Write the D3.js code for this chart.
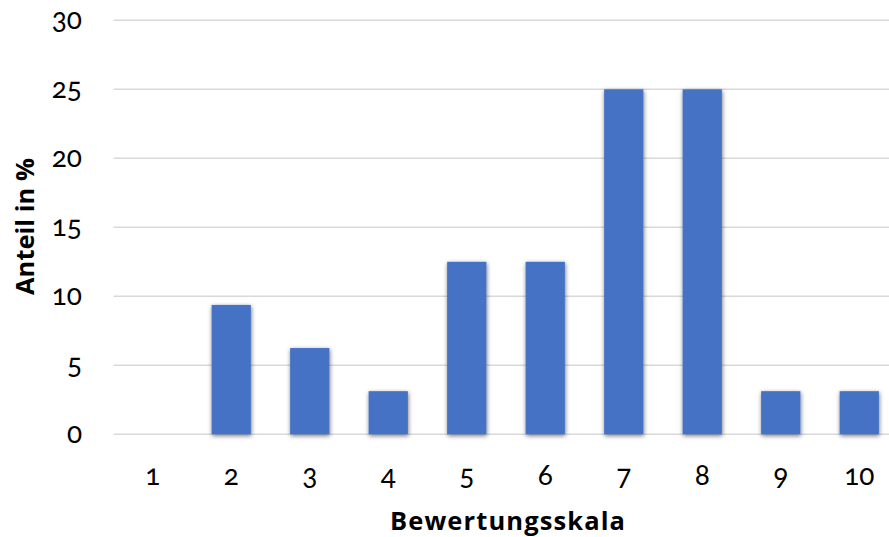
<!DOCTYPE html>
<html><head><meta charset="utf-8">
<script src="https://cdn.jsdelivr.net/npm/d3@7"></script>
<style>
body{margin:0;background:#fff;}
svg{display:block;}
.tick text{font-family:Lato,"Open Sans",sans-serif;font-variant-numeric:oldstyle-nums;font-feature-settings:"onum" 1;fill:#000;}
</style></head>
<body><svg id="c" width="889" height="537"></svg>
<script>
const categories = ["1","2","3","4","5","6","7","8","9","10"];
const values = [0, 9.375, 6.25, 3.125, 12.5, 12.5, 25, 25, 3.125, 3.125];
const yTicks = [0, 5, 10, 15, 20, 25, 30];
const xTitle = "Bewertungsskala";
const yTitle = "Anteil in %";

(function(){
const svg = d3.select("#c");
const pLeft = 113.5, pRight = 898.5, pTop = 20.3, pBottom = 434.3;

const x = d3.scaleBand().domain(categories).range([pLeft, pRight]).paddingInner(0.5).paddingOuter(0.25);
const y = d3.scaleLinear().domain([0, 30]).range([pBottom, pTop]);

const defs = svg.append("defs");
const f = defs.append("filter").attr("id","sh").attr("x","-30%").attr("y","-10%").attr("width","160%").attr("height","130%");
f.append("feDropShadow").attr("dx",0.5).attr("dy",1.5).attr("stdDeviation",2).attr("flood-color","#000").attr("flood-opacity",0.55);

svg.append("g").selectAll("line").data(yTicks).join("line")
  .attr("x1", pLeft).attr("x2", pRight)
  .attr("y1", d => y(d)).attr("y2", d => y(d))
  .attr("stroke", "#d9d9d9").attr("stroke-width", 1.5);

svg.append("g").selectAll("rect").data(categories.map((c,i)=>({c, v: values[i]})).filter(d=>d.v>0)).join("rect")
  .attr("x", d => x(d.c)).attr("width", x.bandwidth())
  .attr("y", d => y(d.v)).attr("height", d => y(0) - y(d.v))
  .attr("fill", "#4472C4").attr("filter","url(#sh)");

const ya = svg.append("g").attr("transform", `translate(${pLeft},0)`)
  .call(d3.axisLeft(y).tickValues(yTicks).tickSize(0).tickPadding(31.5));
ya.select(".domain").remove();
ya.selectAll("text").attr("font-size", 28).attr("dy", "0.3em");

const xa = svg.append("g").attr("transform", `translate(0,${pBottom})`)
  .call(d3.axisBottom(x).tickSize(0));
xa.select(".domain").remove();
xa.selectAll("text").attr("font-size", 28).attr("y", 51).attr("dy", 0);

svg.append("text").attr("x", 507.5).attr("y", 530).attr("text-anchor","middle")
  .attr("font-family","'Open Sans', sans-serif").attr("font-weight","bold").attr("font-size",25.5)
  .attr("textLength", 235).attr("lengthAdjust","spacing").text(xTitle);
svg.append("text").attr("transform","translate(34,226.5) rotate(-90)").attr("text-anchor","middle")
  .attr("font-family","'Open Sans', sans-serif").attr("font-weight","bold").attr("font-size",25.5)
  .attr("textLength", 137).attr("lengthAdjust","spacing").text(yTitle);
})();
</script></body></html>
